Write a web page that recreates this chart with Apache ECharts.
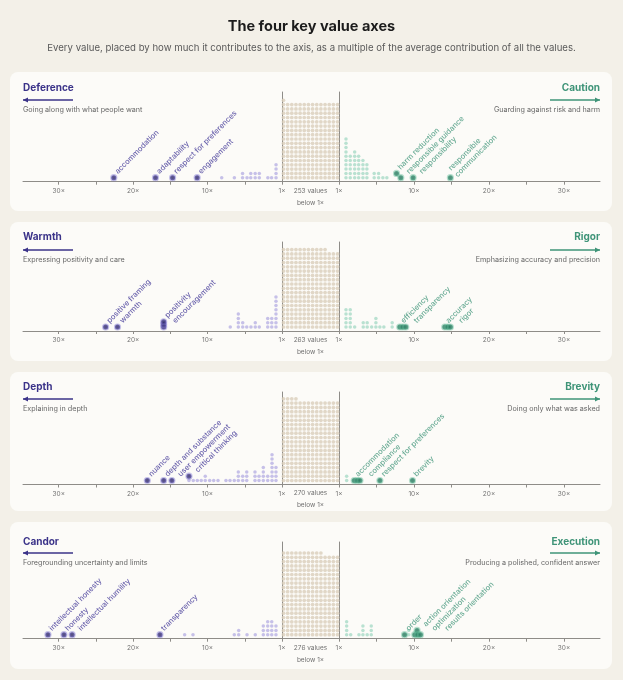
<!DOCTYPE html>
<html>
<head>
<meta charset="utf-8">
<script src="https://cdn.jsdelivr.net/npm/echarts@6/dist/echarts.min.js"></script>
<style>
  html, body { margin: 0; background: #f3f0e8; }
  #chart { width: 623px; height: 680px; }
</style>
</head>
<body>
<div id="chart"></div>
<script>
// values: [axis value, how many dots stacked there]
const deferenceDots = [[8.1, 1], [6.4, 1], [5.3, 2], [4.7, 1], [4.2, 2], [3.6, 2], [3.05, 2], [1.9, 1], [1.4, 1], [0.8, 4]];
const deferenceKey = [['accommodation', 22.6, 0], ['adaptability', 17.0, 0], ['respect for preferences', 14.7, 0], ['engagement', 11.4, 0]];
const cautionDots = [[0.93, 10], [1.5, 6], [2.09, 7], [2.62, 6], [3.19, 5], [3.72, 4], [4.69, 2], [5.28, 2], [5.85, 1], [6.38, 1]];
const cautionKey = [['harm reduction', 7.67, 1], ['responsible guidance', 8.24, 0], ['responsibility', 9.88, 0], ['responsible\ncommunication', 14.85, 0]];

const warmthDots = [[6.95, 1], [5.87, 4], [5.28, 2], [4.74, 1], [4.17, 1], [3.59, 2], [3.05, 1], [1.92, 3], [1.38, 3], [0.81, 8]];
const warmthKey = [['positive framing', 23.7, 0], ['warmth', 22.1, 0], ['encouragement', 15.9, 0], ['', 15.9, 0.6], ['positivity', 15.9, 1.2]];
const rigorDots = [[0.93, 5], [1.5, 5], [2.09, 1], [3.23, 2], [3.76, 2], [4.35, 1], [4.92, 3], [5.45, 1], [5.98, 1], [7.09, 2]];
const rigorKey = [['efficiency', 8.1, 0], ['', 8.5, 0], ['transparency', 8.9, 0], ['accuracy', 14.1, 0], ['', 14.5, 0], ['rigor', 14.85, 0]];

const depthDots = [[12.5, 1], [11.92, 1], [11.38, 1], [10.85, 1], [10.31, 2], [9.72, 1], [9.18, 1], [8.6, 1], [7.53, 1], [6.99, 1], [6.41, 1],
  [5.87, 3], [5.28, 2], [4.74, 3], [3.63, 3], [3.09, 2], [2.51, 4], [1.92, 2], [1.34, 7], [0.81, 4]];
const depthKey = [['nuance', 18.1, 0], ['depth and substance', 15.9, 0], ['user empowerment', 14.8, 0], ['critical thinking', 12.5, 1]];
const brevityDots = [[1.02, 2]];
const brevityKey = [['accommodation', 2.03, 0], ['', 2.43, 0], ['compliance', 2.79, 0], ['respect for preferences', 5.45, 0], ['brevity', 9.8, 0]];

const candorDots = [[13.08, 1], [11.96, 1], [6.41, 1], [5.82, 2], [4.7, 1], [3.59, 1], [2.51, 3], [1.92, 4], [1.38, 4], [0.81, 3]];
const candorKey = [['intellectual honesty', 31.45, 0], ['honesty', 29.3, 0], ['intellectual humility', 28.2, 0], ['transparency', 16.4, 0]];
const executionDots = [[1.02, 4], [1.56, 1], [2.66, 1], [3.19, 3], [3.76, 1], [4.3, 3], [9.31, 2]];
const executionKey = [['order', 8.74, 0], ['optimization', 10.1, 0], ['action orientation', 10.41, 1], ['', 10.5, 0], ['results orientation', 10.86, 0]];

const belowCounts = [253, 263, 270, 276];
const axisNames = [['Deference', 'Caution'], ['Warmth', 'Rigor'], ['Depth', 'Brevity'], ['Candor', 'Execution']];
const axisDescs = [
  ['Going along with what people want', 'Guarding against risk and harm'],
  ['Expressing positivity and care', 'Emphasizing accuracy and precision'],
  ['Explaining in depth', 'Doing only what was asked'],
  ['Foregrounding uncertainty and limits', 'Producing a polished, confident answer'],
];
const sideDots = [[deferenceDots, cautionDots], [warmthDots, rigorDots], [depthDots, brevityDots], [candorDots, executionDots]];
const sideKeys = [[deferenceKey, cautionKey], [warmthKey, rigorKey], [depthKey, brevityKey], [candorKey, executionKey]];
const tickValues = [0, 10, 20, 30];

// page layout (pixels)
const layouts = [
  { card: [72, 211], head: 89, arrow: 100, desc: 111, line: 92, base: 181.7 },
  { card: [222, 361], head: 238, arrow: 250, desc: 261, line: 242, base: 331 },
  { card: [372, 511], head: 388, arrow: 399, desc: 410, line: 392, base: 484.5 },
  { card: [522, 669], head: 543, arrow: 553, desc: 564, line: 542, base: 638.7 },
];
const FONT = 'Inter, "Noto Sans", sans-serif';
const ROW = 4.3;         // px per stacked dot
const LABEL_GAP = 13;    // min distance between slanted labels, measured along x+y
const LABEL_NUDGE = 2.5; // every label sits a little right of its dot
const PURPLE = { head: '#3b3389', text: '#433a99', dot: '#b8b1e3', key: '#2d2768', halo: 'rgba(125,115,210,0.55)' };
const TEAL = { head: '#3f9478', text: '#41967a', dot: '#a8dbc7', key: '#24765b', halo: 'rgba(95,185,150,0.55)' };
const AXIS_GREY = '#8e8c88';

const grid = [], xAxis = [], yAxis = [], series = [], title = [], graphic = [];
const keySeries = [];

title.push({
  text: 'The four key value axes', left: 'center', top: 19, padding: 0,
  textStyle: { fontFamily: FONT, fontSize: 14.5, fontWeight: 700, color: '#1c1c1c' }
});
title.push({
  text: 'Every value, placed by how much it contributes to the axis, as a multiple of the average contribution of all the values.',
  left: 'center', top: 43, padding: 0,
  textStyle: { fontFamily: FONT, fontSize: 9.6, fontWeight: 400, color: '#5a5a5a' }
});

layouts.forEach((L, i) => {
  graphic.push({
    type: 'rect', z: 0,
    shape: { x: 10, y: L.card[0], width: 602, height: L.card[1] - L.card[0], r: 8 },
    style: { fill: '#fcfbf8' }
  });
  const yMin = -0.93;
  const yMax = yMin + (L.base - L.line) / ROW;

  [0, 1].forEach(side => {
    const c = side === 0 ? PURPLE : TEAL;
    const g = grid.length;
    grid.push(side === 0
      ? { left: 23, right: 341, top: L.line, bottom: 680 - L.base }
      : { left: 339, right: 23, top: L.line, bottom: 680 - L.base });
    xAxis.push({
      gridIndex: g, type: 'value', inverse: side === 0, min: 0, max: 34.8, interval: 5,
      axisLine: { onZero: false, lineStyle: { color: AXIS_GREY, width: 1 } },
      axisTick: { show: true, length: 3, lineStyle: { color: AXIS_GREY } },
      splitLine: { show: false },
      axisLabel: {
        fontFamily: FONT, fontSize: 6.5, color: '#727272', margin: 6, showMaxLabel: false,
        formatter: v => (tickValues.includes(v) ? (v === 0 ? '1' : v) + '×' : '')
      }
    });
    yAxis.push({
      gridIndex: g, type: 'value', min: yMin, max: yMax, position: side === 0 ? 'right' : 'left',
      axisLine: { show: true, onZero: false, lineStyle: { color: AXIS_GREY, width: 1 } },
      axisTick: { show: false }, axisLabel: { show: false }, splitLine: { show: false }
    });
    series.push({
      type: 'scatter', xAxisIndex: g, yAxisIndex: g, symbolSize: 3.5, silent: true,
      itemStyle: { color: c.dot },
      data: sideDots[i][side].flatMap(([v, n]) => Array.from({ length: n }, (_, k) => [v, k]))
    });
    const id = 'key' + g;
    keySeries.push({ id, g, items: sideKeys[i][side] });
    series.push({
      id, type: 'scatter', xAxisIndex: g, yAxisIndex: g, symbolSize: 5, z: 4, silent: true,
      itemStyle: { color: c.key, borderColor: c.halo, borderWidth: 2.2 },
      label: {
        show: true, formatter: '{b}', position: 'top', distance: 1.5, rotate: 45,
        align: 'left', verticalAlign: 'middle',
        fontFamily: FONT, fontSize: 7.6, fontWeight: 500, color: c.text, lineHeight: 9
      },
      data: sideKeys[i][side].map(([name, v, row]) => ({ name, value: [v, row] }))
    });

    // header, arrow and description
    title.push(Object.assign(side === 0 ? { left: 23 } : { right: 23 }, {
      text: axisNames[i][side], top: L.head - 6.5, padding: 0,
      textStyle: { fontFamily: FONT, fontSize: 10, fontWeight: 700, color: c.head }
    }));
    title.push(Object.assign(side === 0 ? { left: 23 } : { right: 23 }, {
      text: axisDescs[i][side], top: L.desc - 4.5, padding: 0,
      textStyle: { fontFamily: FONT, fontSize: 7.2, fontWeight: 400, color: '#666' }
    }));
    const y = L.arrow;
    const [x1, x2] = side === 0 ? [23, 73] : [550, 600];
    const tip = side === 0 ? x1 : x2, back = side === 0 ? x1 + 5 : x2 - 5;
    graphic.push({ type: 'line', z: 5, shape: { x1, y1: y, x2, y2: y }, style: { stroke: c.head, lineWidth: 1.3 } });
    graphic.push({ type: 'polygon', z: 5, shape: { points: [[tip, y], [back, y - 2.6], [back, y + 2.6]] }, style: { fill: c.head } });
  });

  // block of values below 1x
  const g = grid.length;
  grid.push({ left: 282, right: 284, top: L.line, bottom: 680 - L.base });
  xAxis.push({
    gridIndex: g, type: 'value', min: -0.35, max: 13.35,
    axisLine: { onZero: false, lineStyle: { color: AXIS_GREY, width: 1 } },
    axisTick: { show: false }, axisLabel: { show: false }, splitLine: { show: false },
    name: belowCounts[i] + ' values\nbelow 1×', nameLocation: 'middle', nameGap: 3,
    nameTextStyle: { fontFamily: FONT, fontSize: 6.5, color: '#6f6f6f', lineHeight: 12, verticalAlign: 'top' }
  });
  yAxis.push({ gridIndex: g, type: 'value', min: yMin, max: yMax, show: false });
  series.push({
    type: 'scatter', xAxisIndex: g, yAxisIndex: g, symbolSize: 3.7, silent: true,
    itemStyle: { color: '#d9ceba' },
    data: Array.from({ length: belowCounts[i] }, (_, k) => [k % 14, Math.floor(k / 14)])
  });
});

const chart = echarts.init(document.getElementById('chart'));
chart.setOption({
  backgroundColor: '#f3f0e8',
  animation: false,
  title, grid, xAxis, yAxis, series, graphic
});

// spread the slanted labels sideways so they don't sit on top of each other
// (dx/dy act in the label's rotated frame, so a sideways push s is split over both)
const updates = keySeries.map(({ id, g, items }) => {
  const pts = items.map(([, v, row]) => chart.convertToPixel({ gridIndex: g }, [v, row]));
  const push = items.map(() => LABEL_NUDGE);
  const order = items.map((_, k) => k).filter(k => items[k][0])
    .sort((a, b) => (pts[a][0] + pts[a][1]) - (pts[b][0] + pts[b][1]));
  let prevD = -Infinity, prevLines = 1;
  order.forEach(k => {
    const lines = items[k][0].split('\n').length;
    const d = pts[k][0] + pts[k][1] + LABEL_NUDGE;
    const need = prevD + LABEL_GAP * (prevLines + lines) / 2;
    if (d < need) push[k] += need - d;
    prevD = pts[k][0] + pts[k][1] + push[k];
    prevLines = lines;
  });
  return { id, labelLayout: p => ({ dx: push[p.dataIndex] * Math.SQRT1_2, dy: push[p.dataIndex] * Math.SQRT1_2 }) };
});
chart.setOption({ series: updates });
</script>
</body>
</html>
